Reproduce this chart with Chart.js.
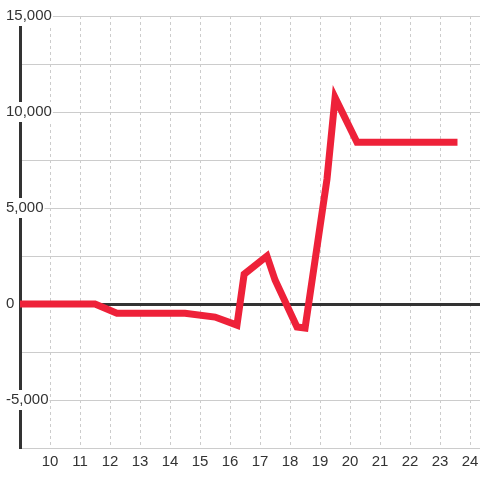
<!DOCTYPE html>
<html>
<head>
<meta charset="utf-8">
<script src="https://cdn.jsdelivr.net/npm/chart.js@4"></script>
<style>
  body { margin: 0; background: #fff; }
</style>
</head>
<body>
<canvas id="chart" width="480" height="480"></canvas>
<script>
// Data
const hours = [8.9, 11.5, 12.23, 14.5, 15.5, 16.23, 16.47, 17.23, 17.5, 18.23, 18.5, 19.23, 19.5, 20.23, 23.58];
const values = [0, 0, -480, -480, -680, -1100, 1550, 2500, 1250, -1200, -1250, 6500, 10750, 8420, 8420];
const yTicks = [-7500, -5000, -2500, 0, 2500, 5000, 7500, 10000, 12500, 15000];
const xTicks = [10, 11, 12, 13, 14, 15, 16, 17, 18, 19, 20, 21, 22, 23, 24];

const points = hours.map((h, i) => ({ x: h, y: values[i] }));
const labelFont = { family: "Liberation Sans, Arial, sans-serif", size: 15 };

new Chart(document.getElementById("chart"), {
  type: "line",
  data: {
    datasets: [
      {
        data: points,
        borderColor: "#ee2139",
        borderWidth: 7,
        pointRadius: 0,
        tension: 0,
        fill: false,
      },
    ],
  },
  options: {
    responsive: false,
    animation: false,
    layout: { padding: { left: 20, top: 16, right: 0, bottom: 4 } },
    plugins: { legend: { display: false }, tooltip: { enabled: false } },
    scales: {
      x: {
        type: "linear",
        min: 9,
        max: 24.33,
        afterBuildTicks: (scale) => {
          scale.ticks = xTicks.map((v) => ({ value: v }));
        },
        afterFit: (scale) => {
          scale.paddingLeft = 0;
          scale.paddingRight = 0;
        },
        border: { display: false, dash: [3, 3] },
        grid: { color: "#cccccc", lineWidth: 1, drawTicks: false },
        ticks: {
          color: "#333",
          font: labelFont,
          padding: 5,
          maxRotation: 0,
          autoSkip: false,
        },
      },
      y: {
        min: -7500,
        max: 15000,
        afterBuildTicks: (scale) => {
          scale.ticks = yTicks.map((v) => ({ value: v }));
        },
        afterFit: (scale) => {
          scale.width = 0;
        },
        border: { color: "#333", width: 3 },
        grid: {
          drawTicks: false,
          color: (ctx) => (ctx.tick && ctx.tick.value === 0 ? "#333" : "#cccccc"),
          lineWidth: (ctx) => (ctx.tick && ctx.tick.value === 0 ? 3 : 1),
        },
        ticks: {
          mirror: true,
          padding: -14,
          color: "#333",
          font: labelFont,
          showLabelBackdrop: (ctx) => ctx.tick && ctx.tick.value % 5000 === 0,
          backdropColor: "#ffffff",
          backdropPadding: 1,
          callback: (v) => (v % 5000 === 0 ? v.toLocaleString("en-US") : ""),
        },
      },
    },
  },
});
</script>
</body>
</html>
